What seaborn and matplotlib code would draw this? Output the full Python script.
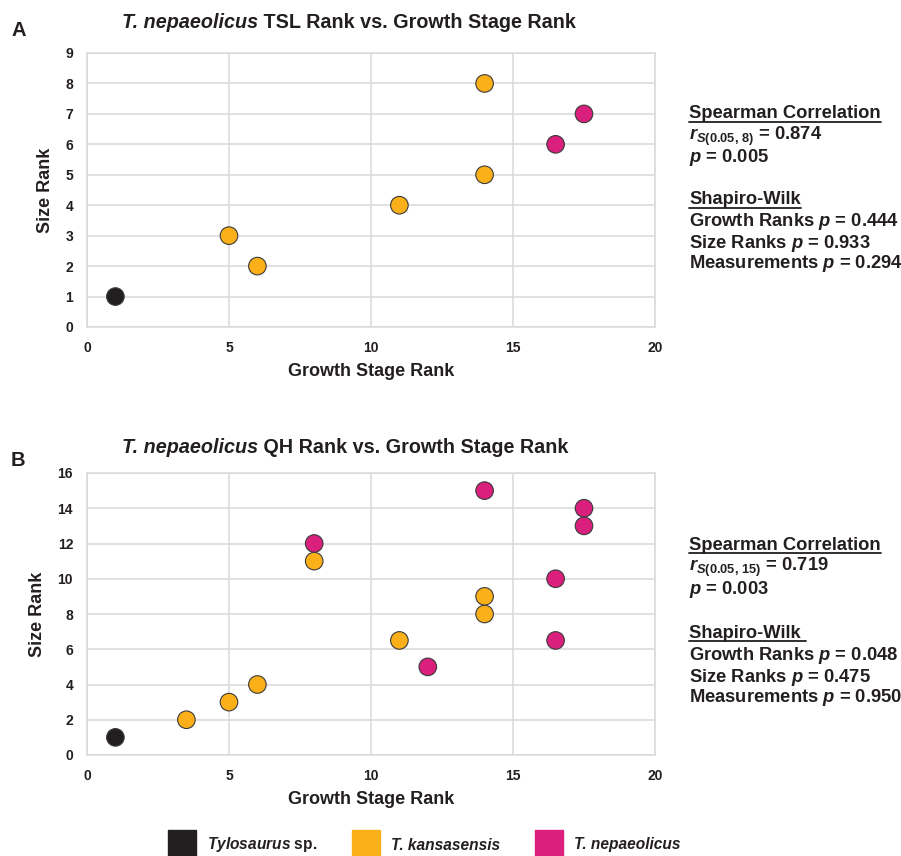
import matplotlib
matplotlib.use("Agg")
import matplotlib.pyplot as plt
import seaborn as sns
import pandas as pd
from matplotlib.lines import Line2D

# --- dados ---
especies = ["Tylosaurus sp.", "T. kansasensis", "T. nepaeolicus"]
cores = ["#231F20", "#FBB01A", "#DB1F7D"]

# painel A (TSL)
a_growth = [1, 5, 6, 11, 14, 14, 16.5, 17.5]
a_size = [1, 3, 2, 4, 8, 5, 6, 7]
a_sp = ["Tylosaurus sp.", "T. kansasensis", "T. kansasensis", "T. kansasensis",
        "T. kansasensis", "T. kansasensis", "T. nepaeolicus", "T. nepaeolicus"]

# painel B (QH)
b_growth = [1, 3.5, 5, 6, 8, 11, 14, 14, 8, 12, 14, 16.5, 16.5, 17.5, 17.5]
b_size = [1, 2, 3, 4, 11, 6.5, 9, 8, 12, 5, 15, 10, 6.5, 14, 13]
b_sp = ["Tylosaurus sp."] + ["T. kansasensis"] * 7 + ["T. nepaeolicus"] * 7

a_stats = ["0.874", "0.005", "0.444", "0.933", "0.294"]
b_stats = ["0.719", "0.003", "0.048", "0.475", "0.950"]

preto = "#231F20"
sns.set_theme(style="white")
plt.rcParams["font.family"] = ["Liberation Sans", "DejaVu Sans"]
plt.rcParams["font.weight"] = "bold"
plt.rcParams["text.color"] = preto
plt.rcParams["axes.labelcolor"] = preto
plt.rcParams["xtick.color"] = preto
plt.rcParams["ytick.color"] = preto
plt.rcParams["mathtext.fontset"] = "custom"
plt.rcParams["mathtext.it"] = "Liberation Sans:italic:bold"
plt.rcParams["mathtext.rm"] = "Liberation Sans:bold"
plt.rcParams["mathtext.bf"] = "Liberation Sans:bold"

paleta = dict(zip(especies, cores))
grid_cor = "#D9D9D9"

fig = plt.figure(figsize=(9.01, 8.56), dpi=100)
axA = fig.add_axes([87 / 901, 1 - 327 / 856, 568 / 901, 274 / 856])
axB = fig.add_axes([87 / 901, 1 - 755 / 856, 568 / 901, 282 / 856])


def painel(ax, x, y, sp, ymax, ystep):
    df = pd.DataFrame({"growth": x, "size": y, "sp": sp})
    sns.scatterplot(data=df, x="growth", y="size", hue="sp", palette=paleta,
                    s=160, edgecolor="#3A3A3A", linewidth=0.8, legend=False,
                    ax=ax, zorder=3)
    ax.set_xlim(0, 20)
    ax.set_ylim(0, ymax)
    ax.set_xticks(range(0, 21, 5))
    ax.set_yticks(range(0, ymax + 1, ystep))
    ax.grid(True, color=grid_cor, linewidth=1.1)
    for s in ax.spines.values():
        s.set_color(grid_cor)
        s.set_linewidth(1.1)
    ax.tick_params(length=0, labelsize=10, pad=10)
    for lab in ax.get_xticklabels() + ax.get_yticklabels():
        lab.set_fontweight("bold")
    ax.set_xlabel("Growth Stage Rank", fontsize=13, fontweight="bold", labelpad=6)
    ax.set_ylabel("Size Rank", fontsize=13, fontweight="bold", labelpad=8)
    for c in ax.collections:
        c.set_clip_on(False)  # pontos em cima da borda nao sao cortados


painel(axA, a_growth, a_size, a_sp, 9, 1)
painel(axB, b_growth, b_size, b_sp, 16, 2)


def titulo(x, y, pecas, fs):
    # pecas: (texto, estilo) escritas uma depois da outra na mesma linha
    t = fig.text(x, y, pecas[0][0], fontstyle=pecas[0][1], fontsize=fs,
                 fontweight="bold", va="bottom", ha="left")
    for txt, est in pecas[1:]:
        t = axA.annotate(txt, xy=(1, 0), xycoords=t, va="bottom", ha="left",
                         fontstyle=est, fontsize=fs, fontweight="bold",
                         annotation_clip=False)
    return t


# titulos e letras
titulo(122 / 901, 1 - 32 / 856, [("T. nepaeolicus", "italic"),
                                 (" TSL Rank vs. Growth Stage Rank", "normal")], 14.2)
titulo(122 / 901, 1 - 457 / 856, [("T. nepaeolicus", "italic"),
                                  (" QH Rank vs. Growth Stage Rank", "normal")], 14.2)
fig.text(11 / 901, 1 - 31 / 856, "A", fontsize=14.5, fontweight="bold", va="center")
fig.text(11 / 901, 1 - 460 / 856, "B", fontsize=14.5, fontweight="bold", va="center")

# textos de estatistica
sublinhar = []


def estatisticas(ys, n, st, shapiro_txt):
    x0 = 689 / 901
    kw = dict(fontsize=13.2, fontweight="bold", va="center", ha="left")
    t1 = fig.text(x0, 1 - ys[0] / 856, "Spearman Correlation", **kw)
    fig.text(x0, 1 - ys[1] / 856, r"$\it{r}_{\it{S(0.05{,}\ %s)}}$ = %s" % (n, st[0]), **kw)
    fig.text(x0, 1 - ys[2] / 856, r"$\it{p}$ = %s" % st[1], **kw)
    t2 = fig.text(x0, 1 - ys[3] / 856, shapiro_txt, **kw)
    fig.text(x0, 1 - ys[4] / 856, r"Growth Ranks $\it{p}$ = %s" % st[2], **kw)
    fig.text(x0, 1 - ys[5] / 856, r"Size Ranks $\it{p}$ = %s" % st[3], **kw)
    fig.text(x0, 1 - ys[6] / 856, r"Measurements $\it{p}$ = %s" % st[4], **kw)
    sublinhar.extend([t1, t2])


estatisticas([114, 136, 157, 200, 222, 243, 264], "8", a_stats, "Shapiro-Wilk")
estatisticas([545, 567, 589, 633, 656, 677, 698], "15", b_stats, "Shapiro-Wilk ")

# legenda
handles = [Line2D([0], [0], marker="s", linestyle="", markersize=20,
                  markerfacecolor=c, markeredgecolor=c) for c in cores]
labels = [r"$\it{Tylosaurus}$ sp.", "T. kansasensis", "T. nepaeolicus"]
leg = fig.legend(handles, labels, loc="center", bbox_to_anchor=(425 / 901, 1 - 845 / 856),
                 ncol=3, frameon=False, fontsize=11.2, handletextpad=0.85, columnspacing=2.3,
                 borderpad=0, handlelength=1.6)
for t in leg.get_texts()[1:]:
    t.set_fontstyle("italic")

# sublinhado
fig.canvas.draw()
r = fig.canvas.get_renderer()
for t in sublinhar:
    bb = t.get_window_extent(r).transformed(fig.transFigure.inverted())
    fig.add_artist(Line2D([bb.x0, bb.x1], [bb.y0 + 0.001, bb.y0 + 0.001],
                          transform=fig.transFigure, color=preto, linewidth=1.3))

fig.savefig("out.png", dpi=100)
